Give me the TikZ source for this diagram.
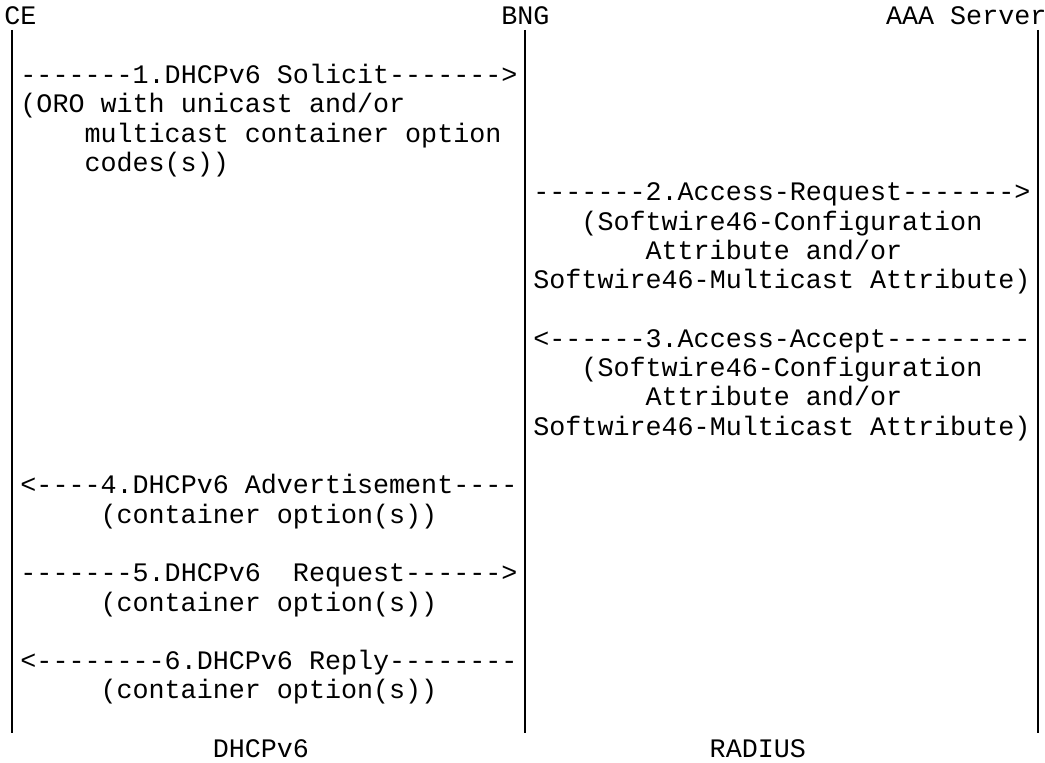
\documentclass[tikz,border=0pt]{standalone}
\usepackage{fontspec}
\newfontfamily\diagfont[Ligatures=TeXOff]{Liberation Mono}
\newcommand{\msgfont}{\diagfont\fontsize{13.36pt}{14.65pt}\selectfont}

\begin{document}
\begin{tikzpicture}[
    x=8.015pt, y=-14.65pt,
    every node/.style={font=\msgfont, inner sep=0pt, anchor=base west},
    lifeline/.style={line width=0.7pt}
]
\useasboundingbox (-0.25,-0.853) rectangle (64.94,25.154);

% Endpoints
\node (CE)  at (0,0)  {CE};
\node (BNG) at (31,0) {BNG};
\node (AAA) at (55,0) {AAA Server};

% Lifelines
\coordinate (ceTop)  at (0.5,0.17);
\coordinate (ceBot)  at (0.5,24.16);
\coordinate (bngTop) at (32.5,0.17);
\coordinate (bngBot) at (32.5,24.16);
\coordinate (aaaTop) at (64.5,0.17);
\coordinate (aaaBot) at (64.5,24.16);
\draw[lifeline] (ceTop) -- (ceBot);
\draw[lifeline] (bngTop) -- (bngBot);
\draw[lifeline] (aaaTop) -- (aaaBot);

% DHCPv6 Solicit
\node (solicit)  at (1,2) {-------1.DHCPv6 Solicit------->};
\node (solicitA) at (1,3) {(ORO with unicast and/or};
\node (solicitB) at (5,4) {multicast container option};
\node (solicitC) at (5,5) {codes(s))};

% Access-Request
\node (request)  at (33,6) {-------2.Access-Request------->};
\node (requestA) at (36,7) {(Softwire46-Configuration};
\node (requestB) at (40,8) {Attribute and/or};
\node (requestC) at (33,9) {Softwire46-Multicast Attribute)};

% Access-Accept
\node (accept)  at (33,11) {<------3.Access-Accept---------};
\node (acceptA) at (36,12) {(Softwire46-Configuration};
\node (acceptB) at (40,13) {Attribute and/or};
\node (acceptC) at (33,14) {Softwire46-Multicast Attribute)};

% DHCPv6 Advertisement, Request, Reply
\node (advert)   at (1,16) {<----4.DHCPv6 Advertisement----};
\node (advertA)  at (6,17) {(container option(s))};
\node (dhcpReq)  at (1,19) {-------5.DHCPv6~~Request------>};
\node (dhcpReqA) at (6,20) {(container option(s))};
\node (reply)    at (1,22) {<--------6.DHCPv6 Reply--------};
\node (replyA)   at (6,23) {(container option(s))};

% Protocols
\node (dhcpLbl)   at (13,25) {DHCPv6};
\node (radiusLbl) at (44,25) {RADIUS};

\end{tikzpicture}
\end{document}
